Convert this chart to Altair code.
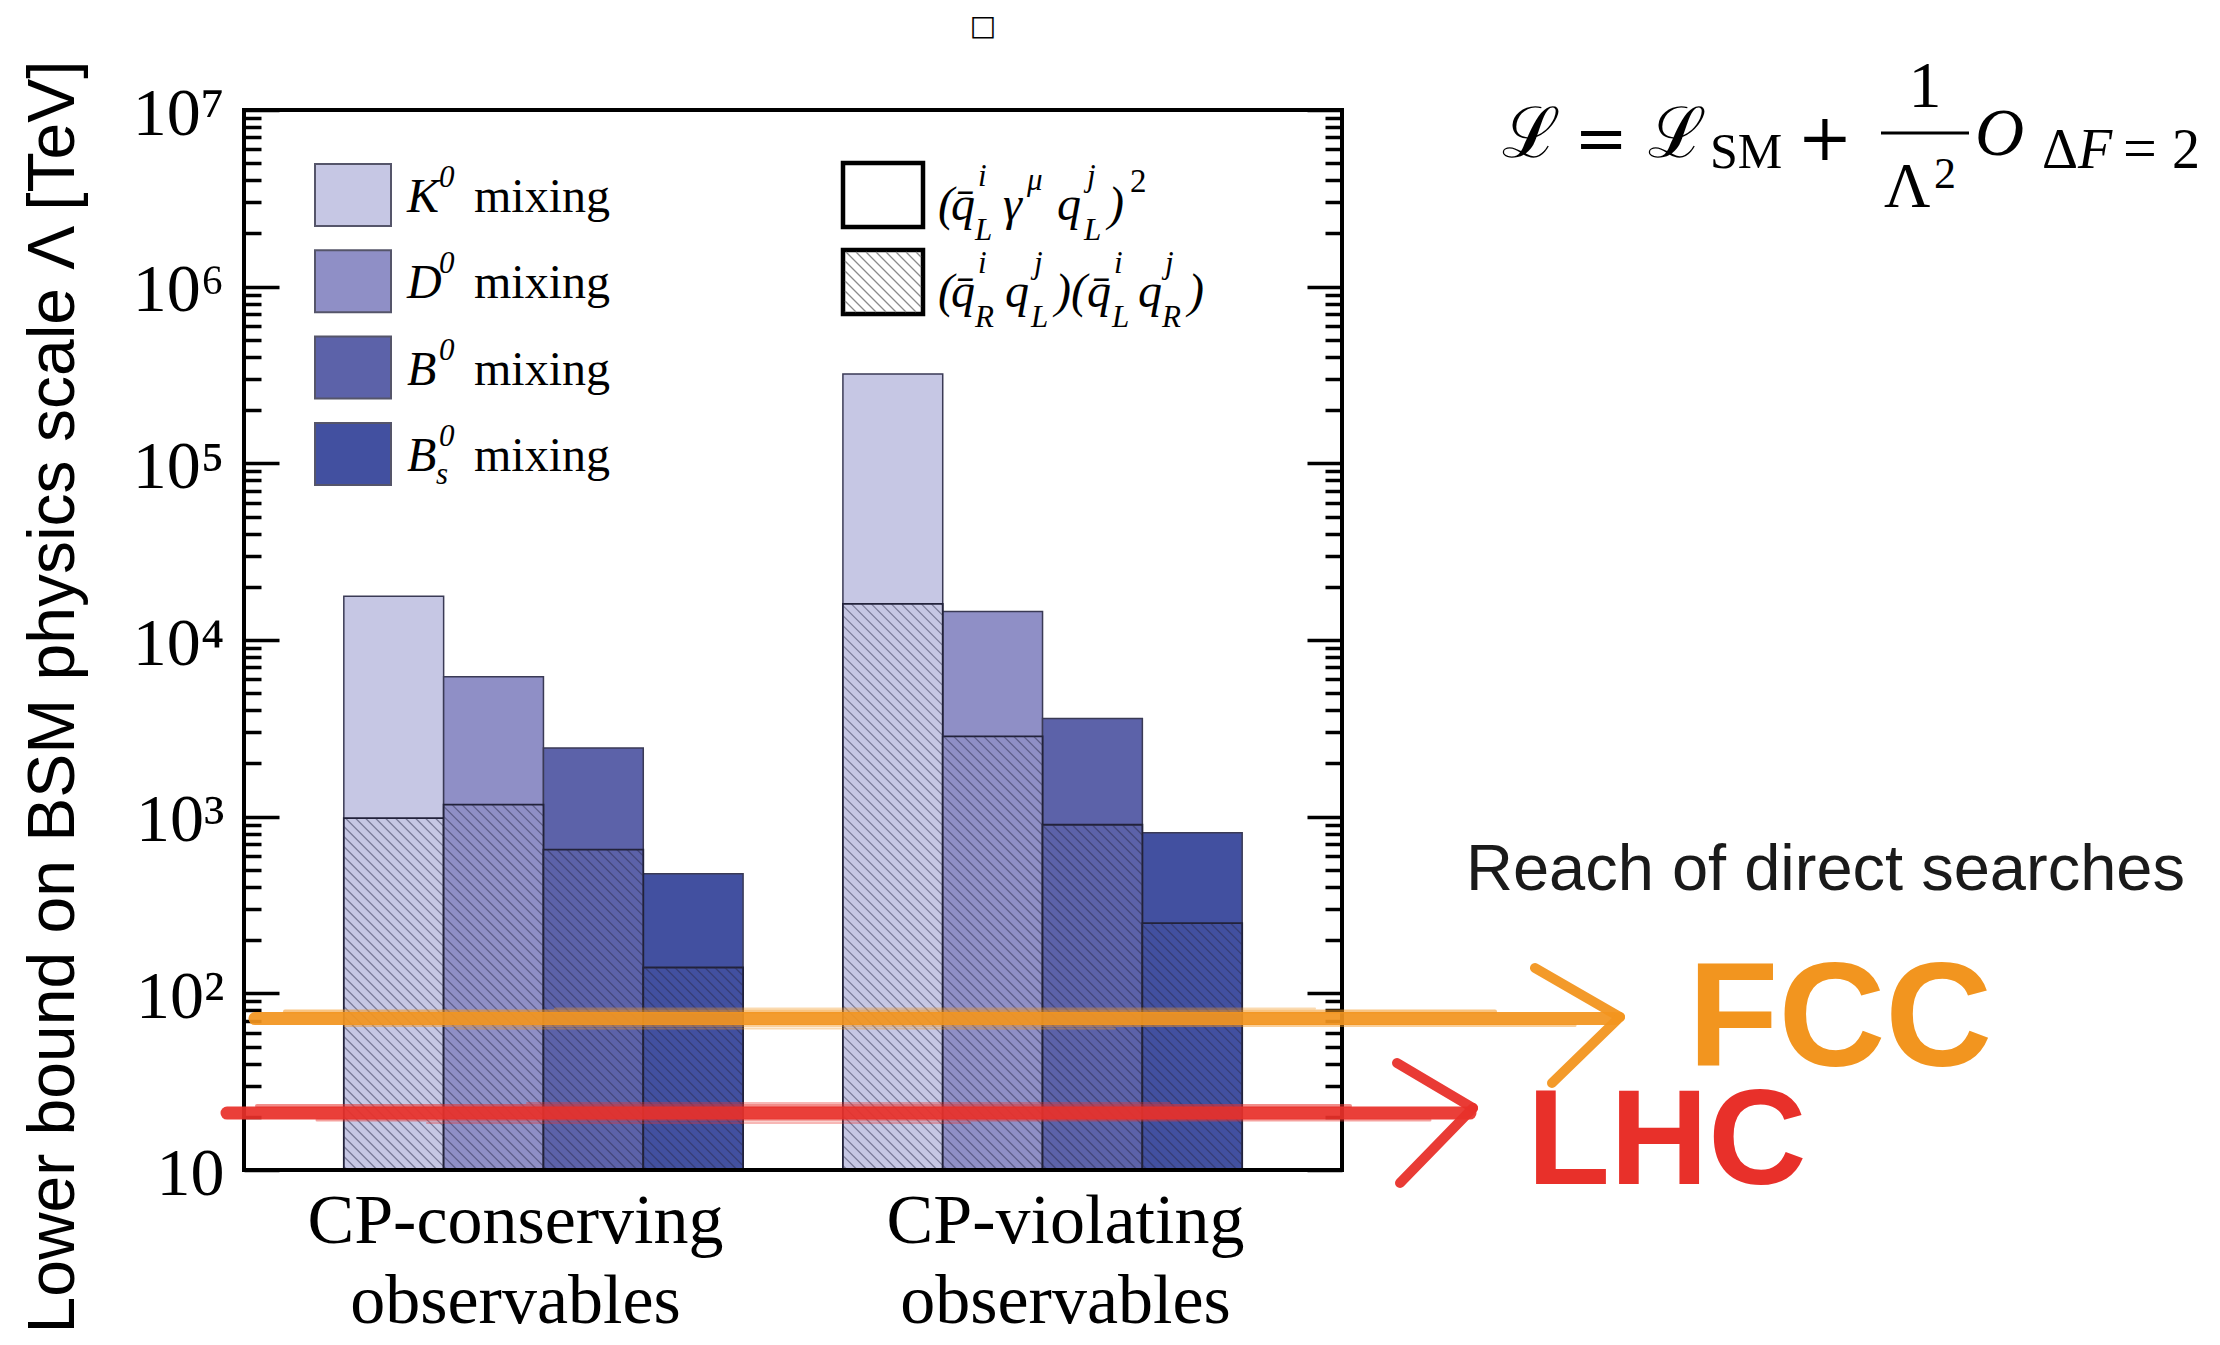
import math
import json
import altair as alt
import pandas as pd

# ---------------- values ----------------
groups = ["CP-conserving observables", "CP-violating observables"]
mesons = ["K0 mixing", "D0 mixing", "B0 mixing", "Bs0 mixing"]
meson_letters = ["K", "D", "B", "B"]
meson_subs = ["", "", "", "s"]
meson_colors = ["#c6c7e4", "#8f8fc6", "#5c62a9", "#4250a0"]

# lower bound on the BSM scale Lambda [TeV]
bound_total_conserving = [17700, 6200, 2450, 475]
bound_hatched_conserving = [980, 1170, 650, 140]
bound_total_violating = [320000, 14500, 3600, 810]
bound_hatched_violating = [16000, 2850, 900, 250]

reach_names = ["LHC", "FCC"]
reach_values = [21, 72]
reach_colors = ["#e8302a", "#f2951f"]

y_major_ticks = [10, 100, 1000, 10000, 100000, 1000000, 10000000]
y_title = "Lower bound on BSM physics scale Λ [TeV]"
reach_title = "Reach of direct searches"

# ---------------- layout ----------------
W, H = 1098, 1060
PL, PT = 244, 110
X_MAX = 11
Y_MIN, Y_MAX = 10, 1e7
BW = W / X_MAX
DP = H / math.log10(Y_MAX / Y_MIN)
SERIF = "Liberation Serif"
SANS = "Liberation Sans"
MATH = "DejaVu Serif"

x_scale = alt.Scale(domain=[0, X_MAX], nice=False, zero=False)
y_scale = alt.Scale(type="log", domain=[Y_MIN, Y_MAX], nice=False)

# ---------------- bars ----------------
totals = [bound_total_conserving, bound_total_violating]
hatcheds = [bound_hatched_conserving, bound_hatched_violating]
rows = []
for g in range(len(groups)):
    for m in range(len(mesons)):
        x0 = 1 + 5 * g + m
        rows.append(dict(group=groups[g], meson=mesons[m], x0=x0, x1=x0 + 1,
                         total=totals[g][m], hatched=hatcheds[g][m],
                         base=Y_MIN, color=meson_colors[m]))
bars = pd.DataFrame(rows)


def hatch_data(x0, x1, v0, v1, step=10.0):
    sx0, sx1 = x0 * BW, x1 * BW
    st, sb = -math.log10(v1) * DP, -math.log10(v0) * DP
    out = []
    c = math.floor((st - sx1) / step) * step
    while c <= sb - sx0:
        a = max(sx0, st - c)
        b = min(sx1, sb - c)
        if b - a > 0.5:
            out.append(dict(xa=a / BW, ya=10 ** (-(a + c) / DP),
                            xb=b / BW, yb=10 ** (-(b + c) / DP)))
        c += step
    return out


def hatch_px(x0, x1, y0, y1, step=10.0):
    out = []
    c = math.floor((y0 - x1) / step) * step
    while c <= y1 - x0:
        a = max(x0, y0 - c)
        b = min(x1, y1 - c)
        if b - a > 0.5:
            out.append(dict(xa=a, ya=a + c, xb=b, yb=b + c))
        c += step
    return out


hatch_rows = []
for r in rows:
    hatch_rows += hatch_data(r["x0"], r["x1"], r["base"], r["hatched"])
hatch_df = pd.DataFrame(hatch_rows)

solid = alt.Chart(bars).mark_bar(stroke="#3a3a55", strokeWidth=1.5).encode(
    x=alt.X("x0:Q", scale=x_scale, axis=None),
    x2=alt.X2("x1"),
    y=alt.Y("total:Q", scale=y_scale, axis=None),
    y2=alt.Y2("base"),
    fill=alt.Fill("color:N", scale=None, legend=None),
)
hatched_bars = alt.Chart(bars).mark_bar(stroke="#22223a", strokeWidth=1.8).encode(
    x=alt.X("x0:Q", scale=x_scale, axis=None),
    x2=alt.X2("x1"),
    y=alt.Y("hatched:Q", scale=y_scale, axis=None),
    y2=alt.Y2("base"),
    fill=alt.Fill("color:N", scale=None, legend=None),
)
hatch_lines = alt.Chart(hatch_df).mark_rule(stroke="#2a2a48", strokeWidth=1.2, opacity=0.5).encode(
    x=alt.X("xa:Q", scale=x_scale, axis=None), x2=alt.X2("xb"),
    y=alt.Y("ya:Q", scale=y_scale, axis=None), y2=alt.Y2("yb"),
)

# group labels under the bars (two lines each), anchored on the x scale
label_nudge = [-0.28, 0.23]
glabels = pd.DataFrame(dict(
    label=[g.replace(" ", "\n") for g in groups],
    pos=[1 + 5 * g + 2 + label_nudge[g] for g in range(len(groups))],
))
group_labels = alt.Chart(glabels).mark_text(
    font=SERIF, fontSize=70, lineBreak="\n", lineHeight=80, align="center",
    baseline="alphabetic", color="black").encode(
    x=alt.X("pos:Q", scale=x_scale, axis=None),
    y=alt.value(1243 - PT),
    text="label:N",
)

# ---------------- axes (inward ticks) ----------------
sup = ["", "", "²", "³", "⁴", "⁵", "⁶", "⁷"]
y_label_expr = "'10' + " + json.dumps(sup, ensure_ascii=False) + "[round(log(datum.value)/LN10)]"
minor_ticks = [k * 10 ** e for e in range(1, 7) for k in range(2, 10)]


def axis_layer(orient, values, length, labels):
    kw = dict(orient=orient, values=values, tickSize=length, offset=-length,
              tickWidth=3.5, tickColor="black", domain=False, grid=False,
              labels=labels, title=None)
    if labels:
        kw.update(labelExpr=y_label_expr, labelFont=SERIF, labelFontSize=68,
                  labelColor="black", labelPadding=20, labelOverlap=False,
                  labelFlush=False, labelOffset=4)
    return alt.Chart(bars).mark_point(opacity=0).encode(
        x=alt.X("x0:Q", scale=x_scale, axis=None),
        y=alt.Y("total:Q", scale=y_scale, axis=alt.Axis(**kw)),
    )


axes = [axis_layer("left", y_major_ticks, 35, True),
        axis_layer("left", minor_ticks, 17, False),
        axis_layer("right", y_major_ticks, 35, False),
        axis_layer("right", minor_ticks, 17, False)]

# ---------------- frame ----------------
frame_df = pd.DataFrame([
    dict(xa=-2, xb=W + 2, ya=0, yb=0),
    dict(xa=-2, xb=W + 2, ya=H, yb=H),
    dict(xa=0, xb=0, ya=-2, yb=H + 2),
    dict(xa=W, xb=W, ya=-2, yb=H + 2),
])
frame = alt.Chart(frame_df).mark_rule(strokeWidth=4, color="black").encode(
    x=alt.X("xa:Q", scale=None, axis=None), x2=alt.X2("xb"),
    y=alt.Y("ya:Q", scale=None, axis=None), y2=alt.Y2("yb"),
)

# ---------------- legend (drawn) ----------------
sw_rows = []
for i in range(len(mesons)):
    y0 = 164 + 86.3 * i
    sw_rows.append(dict(x0=315 - PL, x1=391 - PL, y0=y0 - PT, y1=y0 + 62 - PT,
                        fill=meson_colors[i], stroke="#55556a", sw=2))
sw_rows.append(dict(x0=843 - PL, x1=923 - PL, y0=163 - PT, y1=227 - PT,
                    fill="white", stroke="black", sw=4.5))
sw_rows.append(dict(x0=843 - PL, x1=923 - PL, y0=250 - PT, y1=314 - PT,
                    fill="white", stroke="black", sw=4.5))
sw_df = pd.DataFrame(sw_rows)
swatches = alt.Chart(sw_df).mark_rect().encode(
    x=alt.X("x0:Q", scale=None, axis=None), x2=alt.X2("x1"),
    y=alt.Y("y0:Q", scale=None, axis=None), y2=alt.Y2("y1"),
    fill=alt.Fill("fill:N", scale=None, legend=None),
    stroke=alt.Stroke("stroke:N", scale=None, legend=None),
    strokeWidth=alt.StrokeWidth("sw:Q", scale=None, legend=None),
)
leg_hatch = pd.DataFrame(hatch_px(845 - PL, 921 - PL, 252 - PT, 312 - PT, 10))
legend_hatch = alt.Chart(leg_hatch).mark_rule(stroke="#8a8a8a", strokeWidth=1.3).encode(
    x=alt.X("xa:Q", scale=None, axis=None), x2=alt.X2("xb"),
    y=alt.Y("ya:Q", scale=None, axis=None), y2=alt.Y2("yb"),
)

# ---------------- text pieces ----------------
T = []


def put(text, x, y, size, font=SERIF, style="normal", weight="normal",
        color="black", align="left"):
    T.append(dict(text=text, px=x - PL, py=y - PT, size=size, font=font,
                  style=style, weight=weight, color=color, align=align))


for i in range(len(mesons)):
    y0 = 164 + 86.3 * i
    put(meson_letters[i], 407, y0 + 48, 48, style="italic")
    put("0", 439, y0 + 23, 31, style="italic")
    if meson_subs[i]:
        put(meson_subs[i], 436, y0 + 61, 31, style="italic")
    put("mixing", 474, y0 + 48, 48)

# operator legend
b1, b2 = 220, 307
for t, x, y, s in [("(", 938, b1, 48), ("q\u0304", 951, b1, 48), ("i", 978, b1 - 34, 31),
                   ("L", 975, b1 + 20, 31), ("γ", 1003, b1, 48), ("μ", 1027, b1 - 30, 31),
                   ("q", 1057, b1, 48), ("j", 1087, b1 - 34, 31), ("L", 1084, b1 + 20, 31),
                   (")", 1108, b1, 48),
                   ("(", 938, b2, 48), ("q\u0304", 951, b2, 48), ("i", 978, b2 - 34, 31),
                   ("R", 975, b2 + 20, 31), ("q", 1005, b2, 48), ("j", 1034, b2 - 34, 31),
                   ("L", 1031, b2 + 20, 31), (")(", 1055, b2, 48), ("q\u0304", 1087, b2, 48),
                   ("i", 1114, b2 - 34, 31), ("L", 1112, b2 + 20, 31), ("q", 1138, b2, 48),
                   ("j", 1165, b2 - 34, 31), ("R", 1162, b2 + 20, 31), (")", 1188, b2, 48)]:
    put(t, x, y, s, style="italic")
put("2", 1130, b1 - 28, 33)

# Lagrangian
put("ℒ", 1502, 157, 70, font=MATH)
put("=", 1601, 160, 64, font=MATH, align="center")
put("ℒ", 1648, 157, 70, font=MATH)
put("SM", 1710, 168, 50)
put("+", 1825, 160, 66, font=MATH, align="center")
put("1", 1925, 107, 66, align="center")
put("Λ", 1884, 207, 64)
put("2", 1934, 188, 44)
put("O", 1975, 155, 68, style="italic")
put("Δ", 2042, 168, 56)
put("F", 2078, 168, 56, style="italic")
put("=", 2140, 168, 60, align="center")
put("2", 2172, 168, 56)

put("□", 983, 35, 28, font="DejaVu Sans", align="center")
put(reach_title, 1466, 890, 65, font=SANS, color="#1a1a1a")
put(reach_names[1], 1688, 1066, 148, font=SANS, weight="bold", color=reach_colors[1])
put(reach_names[0], 1527, 1184, 136, font=SANS, weight="bold", color=reach_colors[0])

text_df = pd.DataFrame(T)
text_layers = []
for (font, style, weight, align), sub in text_df.groupby(["font", "style", "weight", "align"]):
    text_layers.append(
        alt.Chart(sub).mark_text(font=font, fontStyle=style, fontWeight=weight,
                                 align=align, baseline="alphabetic").encode(
            x=alt.X("px:Q", scale=None, axis=None),
            y=alt.Y("py:Q", scale=None, axis=None),
            text=alt.Text("text:N"),
            size=alt.Size("size:Q", scale=None, legend=None),
            color=alt.Color("color:N", scale=None, legend=None),
        ))

y_title_layer = alt.Chart(pd.DataFrame({"t": [y_title]})).mark_text(
    angle=270, font=SANS, fontSize=66, align="center", baseline="alphabetic",
    color="black").encode(x=alt.value(74 - PL), y=alt.value(697 - PT), text="t:N")

frac_bar = alt.Chart(pd.DataFrame({"a": [0]})).mark_rule(strokeWidth=3, color="black").encode(
    x=alt.value(1881 - PL), x2=alt.value(1969 - PL), y=alt.value(133 - PT))

# ---------------- hand-drawn reach lines ----------------
reach_df = pd.DataFrame(dict(name=reach_names, value=reach_values, color=reach_colors,
                             xs=[227 - PL, 255 - PL], xe=[1470 - PL, 1615 - PL]))


def reach_rule(width, opacity, yoff, shrink_l=0, shrink_r=0):
    d = reach_df.copy()
    d["xs"] = d["xs"] + shrink_l
    d["xe"] = d["xe"] - shrink_r
    return alt.Chart(d).mark_rule(strokeWidth=width, opacity=opacity, yOffset=yoff,
                                  strokeCap="round").encode(
        x=alt.X("xs:Q", scale=None, axis=None), x2=alt.X2("xe"),
        y=alt.Y("value:Q", scale=y_scale, axis=None),
        color=alt.Color("color:N", scale=None, legend=None))


reach_layers = [reach_rule(13, 0.93, 0),
                reach_rule(4, 0.55, -7, 30, 120),
                reach_rule(3, 0.45, 7, 90, 40),
                reach_rule(2, 0.35, -10, 300, 300),
                reach_rule(2, 0.35, 10, 200, 500)]

chev_df = pd.DataFrame([
    dict(xa=1535, ya=968, xb=1620, yb=1017, color=reach_colors[1]),
    dict(xa=1620, ya=1017, xb=1552, yb=1083, color=reach_colors[1]),
    dict(xa=1397, ya=1063, xb=1473, yb=1108, color=reach_colors[0]),
    dict(xa=1473, ya=1108, xb=1400, yb=1183, color=reach_colors[0]),
])
chev_df[["xa", "xb"]] -= PL
chev_df[["ya", "yb"]] -= PT
chevrons = alt.Chart(chev_df).mark_rule(strokeWidth=10, strokeCap="round", opacity=0.95).encode(
    x=alt.X("xa:Q", scale=None, axis=None), x2=alt.X2("xb"),
    y=alt.Y("ya:Q", scale=None, axis=None), y2=alt.Y2("yb"),
    color=alt.Color("color:N", scale=None, legend=None))

chart = alt.layer(
    solid, hatched_bars, hatch_lines, *axes, swatches, legend_hatch,
    frame, *reach_layers, chevrons, frac_bar, y_title_layer, group_labels, *text_layers,
).resolve_axis(y="independent").properties(
    width=W, height=H,
    padding={"left": PL, "top": PT, "right": 2220 - PL - W, "bottom": 1345 - PT - H},
    autosize=alt.AutoSizeParams(type="none"),
).configure(background="white", view=alt.ViewConfig(stroke="transparent"))

chart.save("out.html", embed_options={"renderer": "svg", "actions": False})
